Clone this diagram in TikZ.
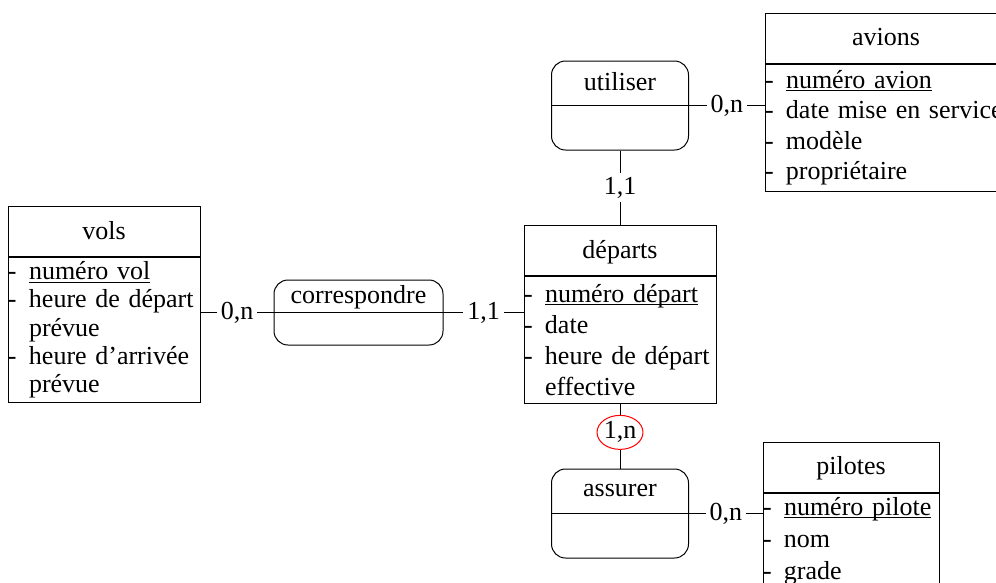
\documentclass[tikz,border=0pt]{standalone}
\usepackage{fontspec}
\setmainfont{Liberation Serif}
\usepackage{tikz}
\usetikzlibrary{shapes.geometric, positioning}

\newsavebox{\keybox}
\newcommand{\keyattr}[1]{\sbox{\keybox}{#1}\rlap{\rule[-3pt]{\wd\keybox}{1pt}}\usebox{\keybox}}
\newcommand{\attr}{\makebox[21pt][l]{-}}
\newcommand{\cont}{\hspace*{21pt}}

\begin{document}
\begin{tikzpicture}[
  x=1pt, y=-1pt,
  font=\fontsize{26}{31}\selectfont,
  enthead/.style={
    rectangle,
    draw,
    line width=1pt,
    minimum height=50pt,
    text height=18pt,
    text depth=3pt,
    inner sep=0pt
  },
  entbody/.style={
    rectangle,
    draw,
    line width=1pt,
    inner sep=0pt,
    align=left,
    anchor=north
  },
  rel/.style={
    rectangle,
    rounded corners=14pt,
    draw,
    line width=1pt
  },
  relname/.style={inner sep=0pt, text height=18pt, text depth=6pt},
  card/.style={fill=white, inner sep=4pt},
  cardred/.style={ellipse, draw=red, line width=1pt, fill=white, inner sep=0pt,
    minimum width=41pt, minimum height=34pt},
  link/.style={line width=1pt}
]
  \useasboundingbox (0,0) rectangle (996,582);
  \clip (0,0) rectangle (996,582);

  % Entities
  \node[enthead, minimum width=192pt] (vols) at (104,231.5) {vols};
  \node[entbody, text width=192pt, minimum height=145pt,
    font=\fontsize{26}{28.3}\selectfont] (volsattr) at (vols.south)
    {\attr\keyattr{numéro vol}\\ \attr heure de départ\\ \cont prévue\\
     \attr heure d'arrivée\\ \cont prévue};

  \node[enthead, minimum width=192pt] (departs) at (620,250.5) {départs};
  \node[entbody, text width=192pt, minimum height=127pt] (departsattr) at (departs.south)
    {\attr\keyattr{numéro départ}\\ \attr date\\ \attr heure de départ\\ \cont effective};

  \node[enthead, minimum width=242pt] (avions) at (886,38) {avions};
  \node[entbody, text width=242pt, minimum height=127pt,
    font=\fontsize{26}{30.5}\selectfont] (avionsattr) at (avions.south)
    {\attr\keyattr{numéro avion}\\ \attr date mise en service\\ \attr modèle\\ \attr propriétaire};

  \node[enthead, minimum width=176pt] (pilotes) at (851,467) {pilotes};
  \node[entbody, text width=176pt, minimum height=96pt,
    font=\fontsize{26}{32}\selectfont] (pilotesattr) at (pilotes.south)
    {\attr\keyattr{numéro pilote}\\ \attr nom\\ \attr grade};

  % Relations
  \node[rel, minimum width=137pt, minimum height=89pt] (utiliser) at (620,105.5) {};
  \node[relname, above=9pt of utiliser.center] (utiliserlbl) {utiliser};
  \draw[link] (utiliser.west) -- (utiliser.east);

  \node[rel, minimum width=169pt, minimum height=65pt] (corr) at (358.5,312.5) {};
  \node[relname, above=2.5pt of corr.center] (corrlbl) {correspondre};

  \node[rel, minimum width=137pt, minimum height=89pt] (assurer) at (620,513.5) {};
  \node[relname, above=10.5pt of assurer.center] (assurerlbl) {assurer};
  \draw[link] (assurer.west) -- (assurer.east);

  % Links
  \draw[link] (utiliser.east) -- node[card] {0,n} (utiliser.east -| avionsattr.west);
  \draw[link] (utiliser.south) -- node[card] {1,1} (departs.north);
  \draw[link] (corr.west -| volsattr.east) -- node[card] {0,n} (corr.west);
  \draw[link] (corr.west) -- (corr.east);
  \draw[link] (corr.east) -- node[card] {1,1} (corr.east -| departsattr.west);
  \draw[link] (departsattr.south) -- node[cardred, pos=0.44] {1,n} (assurer.north);
  \draw[link] (assurer.east) -- node[card] {0,n} (assurer.east -| pilotesattr.west);
\end{tikzpicture}
\end{document}
